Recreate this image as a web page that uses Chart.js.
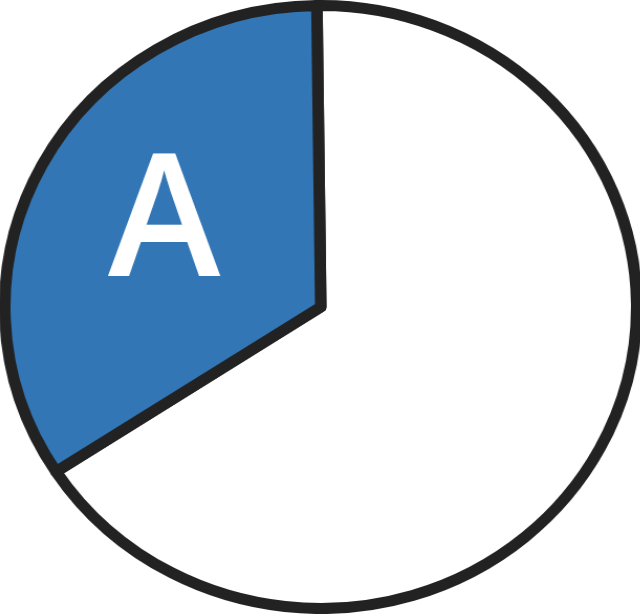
<!DOCTYPE html>
<html>
<head>
<meta charset="utf-8">
<script src="https://cdn.jsdelivr.net/npm/chart.js@4"></script>
<style>
  html, body { margin: 0; padding: 0; background: #ffffff; overflow: hidden; }
  /* the source picture is a slightly wide ellipse, so stretch the square chart */
  #box { width: 614px; height: 614px; transform-origin: 0 0; transform: translateX(-1px) scaleX(1.048); }
</style>
</head>
<body>
<div id="box"><canvas id="chart"></canvas></div>
<script>
// slice data, drawn clockwise from 12 o'clock
const labels = ["", "A"];
const values = [66, 34];
const colors = ["#ffffff", "#3276b6"];
const stretch = 1.048;

// draw the slice label in white inside its arc
const sliceLabels = {
  id: "sliceLabels",
  afterDatasetsDraw(chart) {
    const ctx = chart.ctx;
    const meta = chart.getDatasetMeta(0);
    meta.data.forEach((arc, i) => {
      if (!labels[i]) return;
      const p = arc.getProps(["x", "y", "startAngle", "endAngle", "outerRadius"], true);
      const mid = (p.startAngle + p.endAngle) / 2 + 0.065;
      const r = p.outerRadius * 0.583;
      ctx.save();
      ctx.fillStyle = "#ffffff";
      ctx.font = "600 170px 'Open Sans', 'Noto Sans', sans-serif";
      ctx.textAlign = "center";
      ctx.textBaseline = "alphabetic";
      const m = ctx.measureText(labels[i]);
      ctx.translate(p.x + Math.cos(mid) * r, p.y + Math.sin(mid) * r);
      ctx.scale(1 / stretch, 1); // keep the letter unstretched
      ctx.fillText(labels[i], 0, m.actualBoundingBoxAscent / 2);
      ctx.restore();
    });
  }
};

new Chart(document.getElementById("chart"), {
  type: "pie",
  data: {
    labels,
    datasets: [{
      data: values,
      backgroundColor: colors,
      borderColor: "#222222",
      borderWidth: 11,
      borderJoinStyle: "round"
    }]
  },
  options: {
    responsive: true,
    maintainAspectRatio: false,
    animation: false,
    rotation: -0.7,
    layout: { padding: 0 },
    plugins: {
      legend: { display: false },
      tooltip: { enabled: false }
    }
  },
  plugins: [sliceLabels]
});
</script>
</body>
</html>
